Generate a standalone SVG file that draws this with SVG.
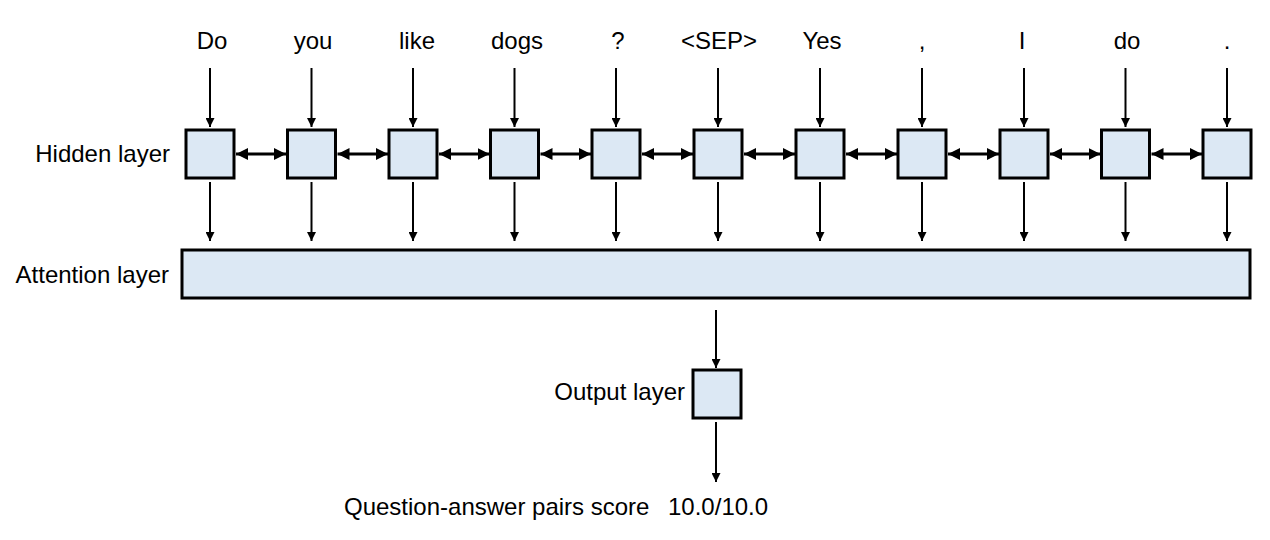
<svg xmlns="http://www.w3.org/2000/svg" width="1270" height="540" viewBox="0 0 1270 540">
<style>
text{font-family:"Liberation Sans",Arial,sans-serif;font-size:24px;fill:#000}
.w{text-anchor:middle}
.r{text-anchor:end}
.box{fill:#dce8f4;stroke:#000;stroke-width:3}
.a{stroke:#000;stroke-width:2;fill:none;marker-end:url(#ah)}
.d{stroke:#000;stroke-width:3;fill:none;marker-start:url(#bh);marker-end:url(#bh)}
</style>
<defs>
<marker id="ah" viewBox="0 0 10 10" refX="10" refY="5" markerWidth="10" markerHeight="9" orient="auto" markerUnits="userSpaceOnUse"><path d="M0,0 L10,5 L0,10 z" fill="#000"/></marker>
<marker id="bh" viewBox="0 0 10 10" refX="10" refY="5" markerWidth="12" markerHeight="20" orient="auto-start-reverse" markerUnits="userSpaceOnUse"><path d="M0,0 L10,5 L0,10 z" fill="#000"/></marker>
</defs>
<g id="labels">
<text class="r" x="170" y="162">Hidden layer</text>
<text class="r" x="169" y="283">Attention layer</text>
<text class="r" x="685" y="400">Output layer</text>
<text x="344" y="515">Question-answer pairs score</text>
<text x="668" y="515">10.0/10.0</text>
</g>
<g id="words">
<text class="w" x="212" y="49">Do</text>
<text class="w" x="313" y="49">you</text>
<text class="w" x="417" y="49">like</text>
<text class="w" x="517" y="49">dogs</text>
<text class="w" x="618" y="49">?</text>
<text class="w" x="719" y="49">&lt;SEP&gt;</text>
<text class="w" x="822" y="49">Yes</text>
<text class="w" x="922" y="49">,</text>
<text class="w" x="1022" y="49">I</text>
<text class="w" x="1127" y="49">do</text>
<text class="w" x="1227" y="49">.</text>
</g>
<g id="hidden">
<rect id="h1" class="box" x="186" y="130" width="48" height="48"/>
<rect id="h2" class="box" x="287.5" y="130" width="48" height="48"/>
<rect id="h3" class="box" x="389" y="130" width="48" height="48"/>
<rect id="h4" class="box" x="490.5" y="130" width="48" height="48"/>
<rect id="h5" class="box" x="592" y="130" width="48" height="48"/>
<rect id="h6" class="box" x="694" y="130" width="48" height="48"/>
<rect id="h7" class="box" x="796" y="130" width="48" height="48"/>
<rect id="h8" class="box" x="898" y="130" width="48" height="48"/>
<rect id="h9" class="box" x="1000" y="130" width="48" height="48"/>
<rect id="h10" class="box" x="1101.5" y="130" width="48" height="48"/>
<rect id="h11" class="box" x="1203" y="130" width="48" height="48"/>
</g>
<g id="attention"><rect class="box" x="182" y="250" width="1068" height="48"/></g>
<g id="output"><rect class="box" x="693" y="370" width="48" height="48"/></g>
<g id="connectors">
<path class="a" d="M210,68V127"/>
<path class="a" d="M311.5,68V127"/>
<path class="a" d="M413,68V127"/>
<path class="a" d="M514.5,68V127"/>
<path class="a" d="M616,68V127"/>
<path class="a" d="M718,68V127"/>
<path class="a" d="M820,68V127"/>
<path class="a" d="M922,68V127"/>
<path class="a" d="M1024,68V127"/>
<path class="a" d="M1125.5,68V127"/>
<path class="a" d="M1227,68V127"/>
<path class="a" d="M210,182V241"/>
<path class="a" d="M311.5,182V241"/>
<path class="a" d="M413,182V241"/>
<path class="a" d="M514.5,182V241"/>
<path class="a" d="M616,182V241"/>
<path class="a" d="M718,182V241"/>
<path class="a" d="M820,182V241"/>
<path class="a" d="M922,182V241"/>
<path class="a" d="M1024,182V241"/>
<path class="a" d="M1125.5,182V241"/>
<path class="a" d="M1227,182V241"/>
<path class="d" d="M236,154H286"/>
<path class="d" d="M337.5,154H388"/>
<path class="d" d="M439,154H489.5"/>
<path class="d" d="M540.5,154H591"/>
<path class="d" d="M642,154H693"/>
<path class="d" d="M744,154H795"/>
<path class="d" d="M846,154H897"/>
<path class="d" d="M948,154H999"/>
<path class="d" d="M1050,154H1100.5"/>
<path class="d" d="M1151.5,154H1202"/>
<path class="a" d="M716,310V368"/>
<path class="a" d="M716,422V482"/>
</g>
</svg>
